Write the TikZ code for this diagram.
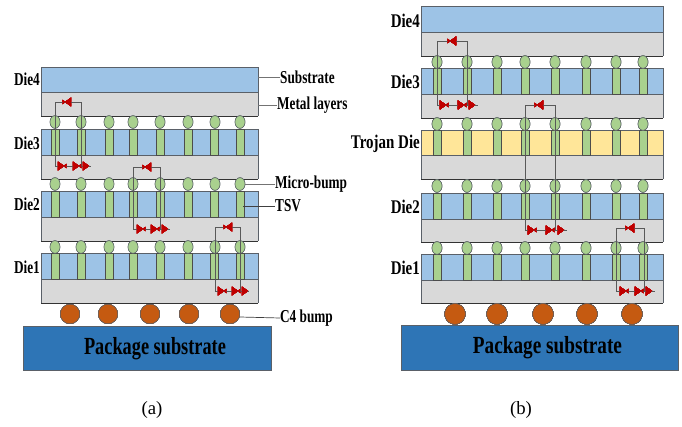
\documentclass[tikz,border=0pt]{standalone}
\usepackage{fontspec}
\setmainfont{Liberation Serif}
\usetikzlibrary{calc}
\definecolor{subblue}{HTML}{9DC3E6}
\definecolor{metalgray}{HTML}{D9D9D9}
\definecolor{tsvgreen}{HTML}{A9D18E}
\definecolor{trojanyellow}{HTML}{FFE699}
\definecolor{cfourorange}{HTML}{C55A11}
\definecolor{pkgblue}{HTML}{2E75B6}
\definecolor{edgegray}{HTML}{5A6068}
\definecolor{bufred}{HTML}{C00000}
\tikzset{
  lbl/.style={font=\bfseries\fontsize{15.5}{15.5}\selectfont,inner sep=0pt,xscale=0.73,transform shape},
  lblbig/.style={lbl,font=\bfseries\fontsize{16.5}{16.5}\selectfont,xscale=1.06},
  pkg/.style={lbl,font=\bfseries\fontsize{21}{21}\selectfont,xscale=1.02},
  caption/.style={font=\fontsize{16}{16}\selectfont,inner sep=0pt},
  tag/.style={lbl,anchor=west},
  leader/.style={draw=gray!90!black,line width=0.6pt},
  wire/.style={draw=black!65,line width=0.5pt},
}
% one die: x left, x right, top, middle, bottom, fill of the substrate
\newcommand{\diebox}[6]{
  \fill[#6] (#1,#3) rectangle (#2,#4);
  \fill[metalgray] (#1,#4) rectangle (#2,#5);
  \draw[edgegray,line width=0.6pt] (#1,#3) rectangle (#2,#4);
  \draw[edgegray,line width=0.6pt] (#1,#4) -- (#1,#5);
  \draw[edgegray,line width=0.6pt] (#2,#4) -- (#2,#5);
  \draw[black!80,line width=0.7pt] (#1,#5) -- (#2,#5);
}
\newcommand{\tsvrow}[3]{
  \foreach \x in {#3}
    \draw[fill=tsvgreen,draw=black!70,line width=0.4pt] (\x-3.8,#1) rectangle (\x+3.8,#2);
}
\newcommand{\bumprow}[2]{
  \foreach \x in {#2}
    \draw[fill=tsvgreen,draw=edgegray,line width=0.4pt] (\x,#1) ellipse (5 and 6.3);
}
% right and left pointing buffers
\newcommand{\bufR}[2]{
  \fill[bufred] (#1-3.2,#2-4.5) -- (#1+3.2,#2) -- (#1-3.2,#2+4.5) -- cycle;
}
\newcommand{\bufRR}[2]{
  \bufR{#1}{#2}
  \fill[bufred] (#1+5.4,#2-2.2) -- (#1+2.6,#2) -- (#1+5.4,#2+2.2) -- cycle;
}
\newcommand{\bufL}[2]{
  \fill[bufred] (#1+3.2,#2-4.5) -- (#1-3.2,#2) -- (#1+3.2,#2+4.5) -- cycle;
  \fill[bufred] (#1-5.4,#2-2.2) -- (#1-2.6,#2) -- (#1-5.4,#2+2.2) -- cycle;
}
% loop: x left, x right, top, bottom, end of the chain, top buffer, three chain buffers
\newcommand{\scanloop}[9]{
  \draw[wire] (#2,#4) -- (#2,#3) -- (#1,#3) -- (#1,#4) -- (#5,#4);
  \bufL{#6}{#3}
  \bufRR{#7}{#4}
  \bufRR{#8}{#4}
  \bufR{#9}{#4}
}
\begin{document}
\begin{tikzpicture}[x=0.03cm,y=-0.03cm]
\useasboundingbox (0,0) rectangle (682,426);

% (a)
\diebox{41}{258}{67}{92}{116}{subblue}
\diebox{41}{258}{129}{155}{179}{subblue}
\diebox{41}{258}{191}{217}{241}{subblue}
\diebox{41}{258}{253}{279}{303}{subblue}
\foreach \y/\z in {129/155,191/217,253/279}
  \tsvrow{\y}{\z}{55,81,109,133,160,188,214,240}
\foreach \y in {122,184,247}
  \bumprow{\y}{55,81,109,133,160,188,215,240}
\scanloop{55}{81}{102}{166}{91}{68}{61}{76}{86}
\scanloop{133}{160}{167}{229}{170}{148}{140}{154}{165}
\scanloop{215}{240}{227}{291}{249}{229}{221}{235}{245}
\foreach \x in {70,108,150,189,230}
  \draw[fill=cfourorange,draw=edgegray,line width=0.3pt] (\x,314) circle (9.7);
\draw[fill=pkgblue,draw=edgegray,line width=0.6pt] (23,326) rectangle (271,370);

\node[lbl,anchor=east] (dieAfour) at (40,79) {Die4};
\node[lbl,anchor=east] (dieAthree) at (40,143) {Die3};
\node[lbl,anchor=east] (dieAtwo) at (40,204) {Die2};
\node[lbl,anchor=east] (dieAone) at (40,267) {Die1};
\node[tag] (substrate) at (280,77) {Substrate};
\node[tag] (metal) at (277,105) {Metal layers};
\node[tag] (micro) at (275,184) {Micro-bump};
\node[tag] (tsv) at (275,206) {TSV};
\node[tag] (cfour) at (280,318) {C4 bump};
\coordinate (substrateEnd) at (258,77);
\coordinate (metalEnd) at (258,105);
\coordinate (microEnd) at (245,184);
\coordinate (tsvEnd) at (243,206);
\coordinate (cfourEnd) at (240,317);
\draw[leader] (substrate.west) -- (substrateEnd);
\draw[leader] (metal.west) -- (metalEnd);
\draw[leader] (micro.west) -- (microEnd);
\draw[leader,draw=black!75] (tsv.west) -- (tsvEnd);
\draw[leader,draw=black!75] (cfour.west) -- (cfourEnd);
\node[pkg] (pkgA) at (155,349) {Package substrate};
\node[caption] (capA) at (152,410) {(a)};

% (b)
\diebox{421}{663}{6}{32}{56}{subblue}
\diebox{421}{663}{68}{94}{118}{subblue}
\diebox{421}{663}{130}{155}{179}{trojanyellow}
\diebox{421}{663}{193}{219}{242}{subblue}
\diebox{421}{663}{254}{280}{303}{subblue}
\foreach \y/\z in {68/94,130/155,193/219,254/280}
  \tsvrow{\y}{\z}{437,467,497,525,555,586,616,643}
\foreach \y in {62,124,186,248}
  \bumprow{\y}{437,467,497,525,555,586,616,643}
\scanloop{437}{467}{41}{105}{478}{453}{443}{461}{472}
\scanloop{525}{555}{105}{230}{567}{540}{531}{549}{561}
\scanloop{616}{644}{228}{291}{655}{631}{623}{638}{649}
\foreach \x in {455,497,543,587,632}
  \draw[fill=cfourorange,draw=edgegray,line width=0.3pt] (\x,314) circle (10.4);
\draw[fill=pkgblue,draw=edgegray,line width=0.6pt] (401,325) rectangle (678,370);

\node[lblbig,anchor=east] (dieBfour) at (420,21) {Die4};
\node[lblbig,anchor=east] (dieBthree) at (420,82) {Die3};
\node[lblbig,anchor=east] (dieBtrojan) at (420,144) {Trojan Die};
\node[lblbig,anchor=east] (dieBtwo) at (420,207) {Die2};
\node[lblbig,anchor=east] (dieBone) at (420,268) {Die1};
\node[pkg,xscale=1.05] (pkgB) at (547.5,348) {Package substrate};
\node[caption] (capB) at (521,410) {(b)};
\end{tikzpicture}
\end{document}
